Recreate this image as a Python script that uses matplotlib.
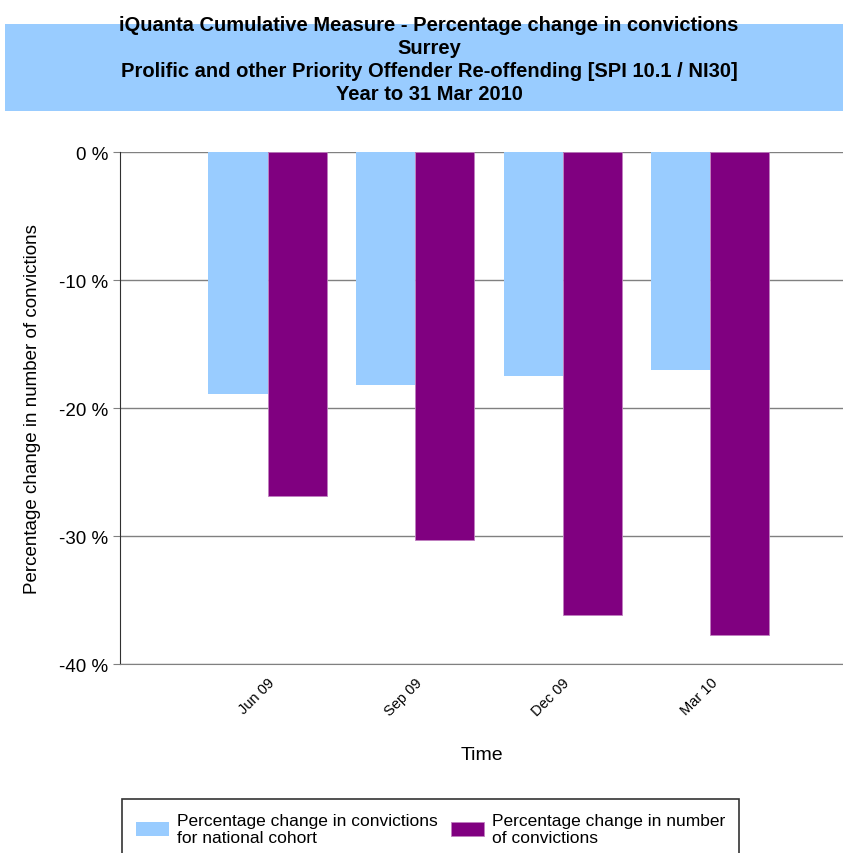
import numpy as np
import matplotlib.pyplot as plt
from matplotlib.patches import Rectangle

plt.rcParams['font.family'] = ['Liberation Sans', 'DejaVu Sans']

periods = ["Jun 09", "Sep 09", "Dec 09", "Mar 10"]
national_cohort = [-18.9, -18.2, -17.5, -17.0]
num_convictions = [-26.9, -30.3, -36.2, -37.7]
ytick_vals = [0, -10, -20, -30, -40]

fig = plt.figure(figsize=(8.43, 8.54), dpi=100)

# title banner
fig.patches.append(Rectangle((5 / 843, 0.869), 1 - 5 / 843, 0.102,
                             transform=fig.transFigure, facecolor="#99ccff",
                             edgecolor="none", zorder=0))
title_lines = ["iQuanta Cumulative Measure - Percentage change in convictions",
               "Surrey",
               "Prolific and other Priority Offender Re-offending [SPI 10.1 / NI30]",
               "Year to 31 Mar 2010"]
fig.text(0.509, 0.9297, "\n".join(title_lines), ha="center", va="center",
         fontsize=14.5, fontweight="bold", linespacing=1.28)

ax = fig.add_axes([0.1423, 0.2213, 0.8577, 0.5995])
x = np.arange(len(periods))
w = 0.4
ax.bar(x - w / 2, national_cohort, w, color="#99ccff",
       label="Percentage change in convictions\nfor national cohort", zorder=2)
ax.bar(x + w / 2, num_convictions, w, color="#800080", edgecolor="#c080c0",
       linewidth=0.6, label="Percentage change in number\nof convictions", zorder=2)

ax.set_ylim(-40, 0)
ax.set_xlim(-1.0, 3.9)
ax.set_yticks(ytick_vals)
ax.set_yticklabels([f"{v} %" for v in ytick_vals], fontsize=13.5)
ax.set_xticks(x)
ax.set_xticklabels(periods, rotation=45, ha="right", rotation_mode="anchor",
                   fontsize=10.5)
ax.tick_params(axis="x", length=0, pad=8)
ax.tick_params(axis="y", length=5, color="#808080")
ax.yaxis.grid(True, color="#808080", linewidth=1, zorder=0)
for s in ["top", "right"]:
    ax.spines[s].set_visible(False)
ax.spines["bottom"].set_color("#808080")
ax.spines["left"].set_color("#303030")

ax.set_xlabel("Time", fontsize=14, labelpad=20)
ax.set_ylabel("Percentage change in number of convictions", fontsize=13.5,
              labelpad=13)

leg = fig.legend(loc="upper left", bbox_to_anchor=(122 / 843, 1 - 800 / 854),
                 ncol=2, fontsize=12.5, frameon=True, fancybox=False,
                 edgecolor="black", handlelength=1.9, handleheight=0.8,
                 handletextpad=0.46, borderpad=0.8, borderaxespad=0,
                 columnspacing=0.75, labelspacing=0.3)
leg.get_frame().set_linewidth(1.2)

fig.savefig("out.png", dpi=100)
